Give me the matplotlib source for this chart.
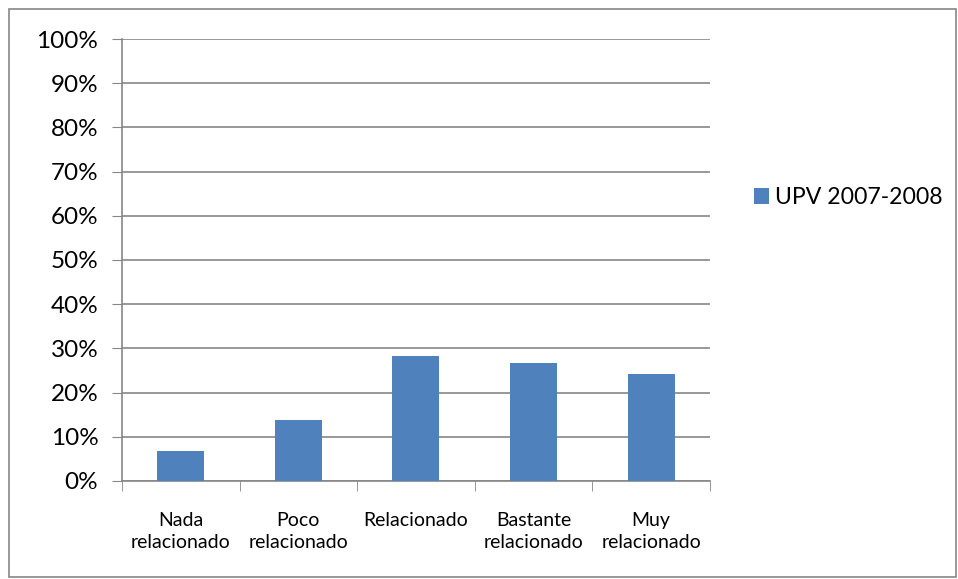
import matplotlib.pyplot as plt
import numpy as np
from matplotlib.patches import Rectangle

categories = ["Nada\nrelacionado", "Poco\nrelacionado", "Relacionado",
              "Bastante\nrelacionado", "Muy\nrelacionado"]
values = [6.8, 13.7, 28.3, 26.8, 24.2]
series_name = "UPV 2007-2008"
y_ticks = list(range(0, 101, 10))

bar_color = "#4F81BD"
line_color = "#868686"

plt.rcParams["font.family"] = ["Lato", "DejaVu Sans"]

fig = plt.figure(figsize=(9.58, 5.79), dpi=100)
ax = fig.add_axes([0.1273, 0.1693, 0.6138, 0.7633])

xs = np.arange(len(categories))
ax.bar(xs, values, width=0.4, color=bar_color, label=series_name, zorder=3)

ax.set_xlim(-0.5, len(categories) - 0.5)
ax.set_ylim(0, 100)
ax.set_yticks(y_ticks)
ax.set_yticklabels([f"{t}%" for t in y_ticks], fontsize=17.5)
ax.yaxis.grid(True, color=line_color, linewidth=1.2, zorder=0)

ax.set_xticks(xs)
ax.set_xticklabels(categories, fontsize=14, linespacing=1.4)
ax.set_xticks(np.arange(-0.5, len(categories)), minor=True)
ax.tick_params(axis="x", which="major", length=0, pad=22)
ax.tick_params(axis="x", which="minor", length=7, color=line_color, direction="out")
ax.tick_params(axis="y", length=7, color=line_color, pad=10)

for side in ["top", "right"]:
    ax.spines[side].set_visible(False)
for side in ["left", "bottom"]:
    ax.spines[side].set_color(line_color)
    ax.spines[side].set_linewidth(1.2)

fig.legend(loc="center left", bbox_to_anchor=(0.765, 0.659), frameon=False,
           fontsize=16.6, handlelength=0.68, handleheight=0.68, handletextpad=0.25)

fig.patches.append(Rectangle((0.009, 0.004), 0.989, 0.981, transform=fig.transFigure,
                             fill=False, edgecolor=line_color, linewidth=1.2))

fig.savefig("out.png", dpi=100)
